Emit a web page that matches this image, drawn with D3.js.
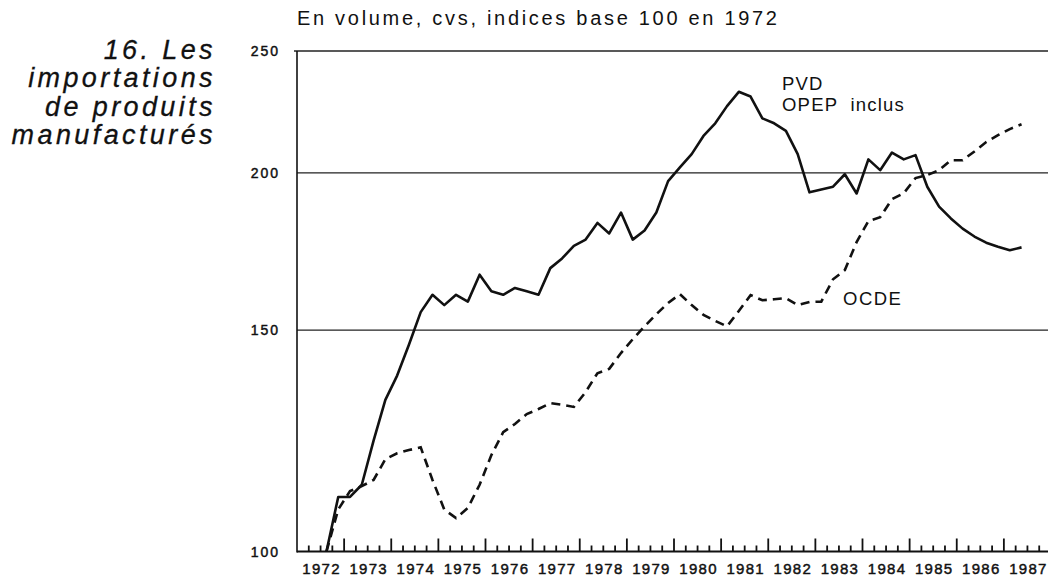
<!DOCTYPE html>
<html>
<head>
<meta charset="utf-8">
<script src="https://cdn.jsdelivr.net/npm/d3@7"></script>
<style>
  body { margin: 0; background: #fff; }
  svg { display: block; }
  text { font-family: "Liberation Sans", Arial, Helvetica, sans-serif; fill: #111; }
</style>
</head>
<body>
<div id="chart-container"></div>
<script>
/* Data : indices trimestriels, base 100 en 1972, du 3e trim. 1972 au 2e trim. 1987 */
const firstYear = 1972, firstQuarter = 3;

const pvdValues = [
  100, 110.5,
  110.5, 113, 122.5, 132,
  138, 146, 155, 160,
  157, 160, 158, 166,
  161, 160, 162, 161,
  160, 168, 171, 175,
  177, 182.5, 179, 186,
  177, 180, 186, 197,
  202, 207, 214, 219,
  226, 232, 230, 221,
  219, 216, 207, 193,
  194, 195, 199.5, 192.6,
  205, 201, 207.6, 205,
  206.6, 195, 188, 184,
  180.6, 178, 176, 174.7,
  173.6, 174.5
];

const ocdeValues = [
  100, 108,
  111.7, 112.7, 114, 118.4,
  119.7, 120.4, 121, 114,
  108, 106.3, 108.3, 113,
  119.3, 124.4, 126.3, 128.6,
  129.8, 131.2, 130.8, 130.3,
  133.9, 138.6, 139.7, 143.8,
  147.5, 151, 154.4, 157.6,
  160.2, 157, 154.2, 152.5,
  151, 155.3, 159.9, 158.4,
  158.7, 159, 157, 157.9,
  158, 164.6, 167.4, 176.2,
  183.1, 184.4, 190.6, 192.7,
  198.1, 199.2, 201, 204.7,
  204.7, 208, 211.6, 214.3,
  216.7, 218.6
];

const yearLabels = d3.range(1972, 1988);
const yTicks = [100, 150, 200, 250];
const gridValues = [150, 200, 250];

const chartTitle = 'En volume, cvs, indices base 100 en 1972';
const sideTitle = ['16. Les', 'importations', 'de produits', 'manufacturés'];
const pvdLabel = ['PVD', 'OPEP  inclus'];
const ocdeLabel = 'OCDE';

/* Dimensions */
let width = 1048, height = 576;
let xLeft = 297, xRight = 1051;
let yBottom = 551.5, yTop = 51;

let x = d3.scaleLinear().domain([1972, 1988]).range([xLeft, xRight]);
let y = d3.scaleLog().domain([100, 250]).range([yBottom, yTop]);

// position of a quarterly point: middle of the quarter
let quarterX = function (i) {
  let q = firstQuarter - 1 + i;
  return x(firstYear + (q + 0.5) / 4);
};

let svg = d3.select('#chart-container')
  .append('svg')
  .attr('width', width)
  .attr('height', height);

/* Grid lines */
svg.selectAll('.grid')
  .data(gridValues)
  .enter().append('line')
  .attr('class', 'grid')
  .attr('x1', d => d === 250 ? xLeft - 3 : xLeft)
  .attr('x2', width)
  .attr('y1', d => y(d))
  .attr('y2', d => y(d))
  .style('stroke', '#222')
  .style('stroke-width', 1.3);

/* Left axis line */
svg.append('line')
  .attr('x1', xLeft).attr('x2', xLeft)
  .attr('y1', y(250)).attr('y2', yBottom + 1)
  .style('stroke', '#111')
  .style('stroke-width', 1.6);

/* Quarterly ticks (one path), taller at each year */
let quarterTicks = d3.range(1, 64).map(k => 1972 + k / 4);
let tickPath = d3.path();
quarterTicks.forEach(d => {
  let len = Math.abs(d - Math.round(d)) < 0.01 ? 13 : 6;
  tickPath.moveTo(x(d), yBottom);
  tickPath.lineTo(x(d), yBottom - len);
});
svg.append('path')
  .attr('d', tickPath.toString())
  .style('fill', 'none')
  .style('stroke', '#111')
  .style('stroke-width', 1.8);

/* Bottom axis line */
svg.append('line')
  .attr('x1', xLeft).attr('x2', width)
  .attr('y1', yBottom).attr('y2', yBottom)
  .style('stroke', '#111')
  .style('stroke-width', 2);

/* Year labels, centred on each year */
svg.selectAll('.year')
  .data(yearLabels)
  .enter().append('text')
  .attr('class', 'year')
  .attr('x', d => x(d + 0.5) + 1)
  .attr('y', 574)
  .attr('text-anchor', 'middle')
  .style('font-size', '15px')
  .style('letter-spacing', '1.3px')
  .style('stroke', '#111')
  .style('stroke-width', 0.45)
  .text(d => d);

/* Y labels */
svg.selectAll('.ylabel')
  .data(yTicks)
  .enter().append('text')
  .attr('class', 'ylabel')
  .attr('x', 280)
  .attr('y', d => y(d) + 5)
  .attr('text-anchor', 'end')
  .style('font-size', '14px')
  .style('letter-spacing', '2px')
  .style('stroke', '#111')
  .style('stroke-width', 0.45)
  .text(d => d);

/* Lines */
let line = d3.line()
  .x((d, i) => quarterX(i))
  .y(d => y(d));

svg.append('path')
  .datum(ocdeValues)
  .attr('d', line)
  .style('fill', 'none')
  .style('stroke', '#111')
  .style('stroke-width', 2.6)
  .style('stroke-dasharray', '9,6');

svg.append('path')
  .datum(pvdValues)
  .attr('d', line)
  .style('fill', 'none')
  .style('stroke', '#111')
  .style('stroke-width', 2.6)
  .style('stroke-linejoin', 'round');

/* Titles */
svg.append('text')
  .attr('x', 297)
  .attr('y', 25)
  .style('font-size', '20px')
  .style('letter-spacing', '2.7px')
  .text(chartTitle);

svg.selectAll('.side')
  .data(sideTitle)
  .enter().append('text')
  .attr('class', 'side')
  .attr('x', 216)
  .attr('y', (d, i) => 58.5 + i * 28.6)
  .attr('text-anchor', 'end')
  .style('font-size', '27px')
  .style('font-style', 'italic')
  .style('letter-spacing', '3.4px')
  .style('stroke', '#111')
  .style('stroke-width', 0.3)
  .text(d => d);

/* Series labels */
svg.selectAll('.pvd')
  .data(pvdLabel)
  .enter().append('text')
  .attr('class', 'pvd')
  .attr('x', 782)
  .attr('y', (d, i) => 90 + i * 21)
  .style('font-size', '18.5px')
  .style('letter-spacing', '1.2px')
  .style('white-space', 'pre')
  .text(d => d);

svg.append('text')
  .attr('x', 843)
  .attr('y', 305)
  .style('font-size', '18.5px')
  .style('letter-spacing', '1.5px')
  .text(ocdeLabel);
</script>
</body>
</html>
